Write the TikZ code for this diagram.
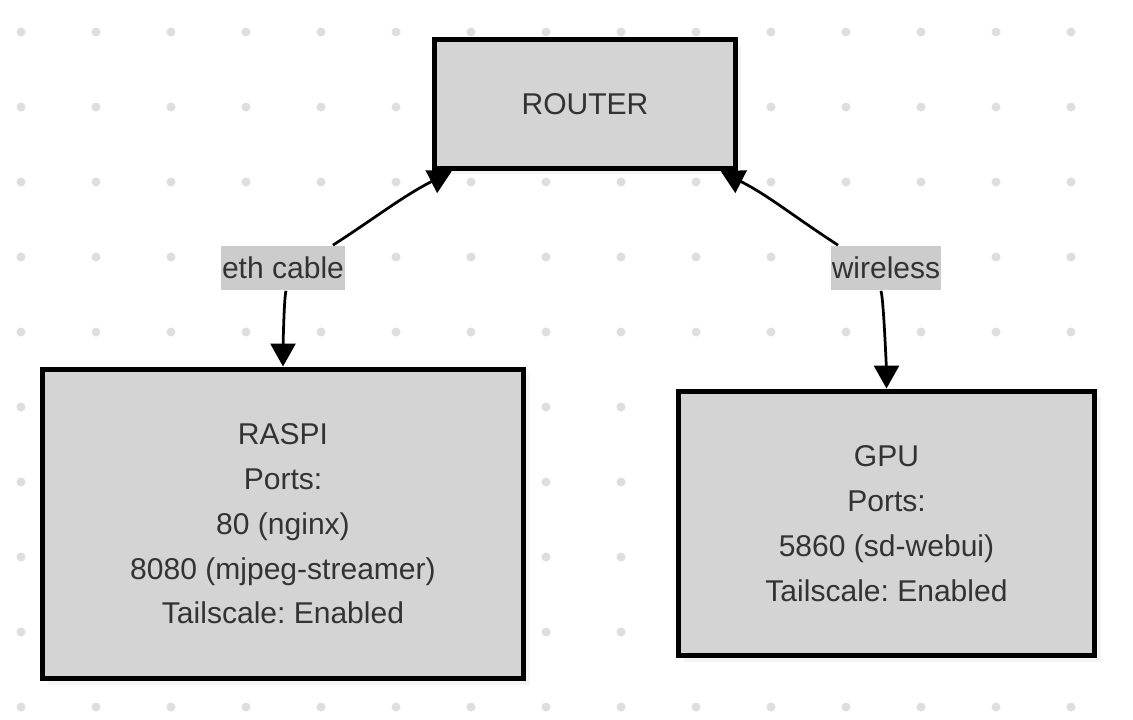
\documentclass[tikz,border=0pt]{standalone}
\usepackage{fontspec}
\setmainfont{Liberation Sans}
\usepackage{tikz}
\usetikzlibrary{arrows.meta,shadows}
\usepackage{xcolor}
\frenchspacing
\newcommand{\myfont}{\fontsize{17.1}{25.5}\selectfont}
\newcommand{\dotunit}{0.09cm}
\tikzset{
    dotsty/.style={fill=dotgray},
    devsty/.style={draw,line width=0.11cm,fill=boxgray,rectangle,text=txtgray,align=center,font=\myfont,anchor=center,
                   drop shadow={opacity=0.08,shadow xshift=0.12cm,shadow yshift=-0.12cm}},
    lblsty/.style={fill=lblgray,rectangle,text=txtgray,font=\myfont,inner xsep=0.5pt,minimum height=0.9cm,anchor=center},
    linksty/.style={->,line width=0.055cm},
}
\colorlet{boxgray}{black!17}
\colorlet{lblgray}{black!20}
\colorlet{dotgray}{black!13}
\colorlet{txtgray}{black!80}

\begin{document}
\begin{tikzpicture}[>={Triangle[length=0.46cm,width=0.5cm]},x=0.02cm,y=0.02cm]
  \useasboundingbox (0,0) rectangle (1133,-720);
  \foreach \i in {0,...,14}
    \foreach \j in {0,...,9}
      \fill[dotsty] (21+75*\i,-32-75*\j) circle (\dotunit);

  \node[devsty,minimum width=6.02cm,minimum height=2.58cm] (router) at (585,-104) {ROUTER};
  \node[devsty,minimum width=9.63cm,minimum height=6.19cm] (raspi) at (283,-524)
    {RASPI\\Ports:\\80 (nginx)\\8080 (mjpeg-streamer)\\Tailscale: Enabled};
  \node[devsty,minimum width=8.33cm,minimum height=5.29cm] (gpu) at (886.5,-523.5)
    {GPU\\Ports:\\5860 (sd-webui)\\Tailscale: Enabled};
  \node[lblsty] (ethlbl) at (283,-268) {eth cable};
  \node[lblsty] (wifilbl) at (886,-268) {wireless};

  \draw[linksty] ([xshift=1cm]ethlbl.north) to[out=33,in=-153] ([xshift=0.4cm]router.south west);
  \draw[linksty] ([xshift=0.06cm]ethlbl.south) to[out=-105,in=90,looseness=0.3] (raspi.north);
  \draw[linksty] ([xshift=-0.96cm]wifilbl.north) to[out=147,in=-27] ([xshift=-0.35cm]router.south east);
  \draw[linksty] ([xshift=-0.1cm]wifilbl.south) to[out=-75,in=90,looseness=0.3] (gpu.north);
\end{tikzpicture}
\end{document}
